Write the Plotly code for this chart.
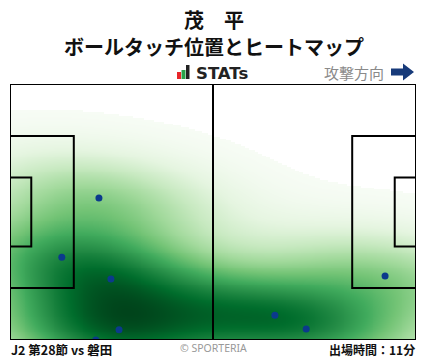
import numpy as np
import plotly.graph_objects as go

# Touch positions (pitch metres, x: 0-105 attacking to the right, y: 0-68)
touch_x = [23.0, 13.4, 26.1, 28.2, 22.2, 68.5, 76.6, 97.0]
touch_y = [37.7, 22.0, 16.2, 2.7, 0.0, 6.6, 2.9, 17.0]

title_name = "茂　平"
title_sub = "ボールタッチ位置とヒートマップ"
match_label = "J2 第28節 vs 磐田"
minutes_label = "出場時間：11分"

L, W = 105.0, 68.0

# Gaussian KDE (Scott's rule, full covariance) computed from touches
pts = np.vstack([touch_x, touch_y])
n = pts.shape[1]
factor = n ** (-1.0 / 6.0)
cov = np.cov(pts) * factor ** 2
inv = np.linalg.inv(cov)
gx = np.linspace(0, L, 211)
gy = np.linspace(0, W, 137)
GX, GY = np.meshgrid(gx, gy)
dens = np.zeros_like(GX)
for i in range(n):
    dx = GX - pts[0, i]
    dy = GY - pts[1, i]
    dens += np.exp(-0.5 * (inv[0, 0] * dx * dx + 2 * inv[0, 1] * dx * dy + inv[1, 1] * dy * dy))
dens /= dens.max()
thresh = 0.012
z = np.where(dens < thresh, np.nan, dens)

greens = [
    [0.0, "#f7fcf5"], [0.125, "#e5f5e0"], [0.25, "#c7e9c0"], [0.375, "#a1d99b"],
    [0.5, "#74c476"], [0.625, "#41ab5d"], [0.75, "#238b45"], [0.875, "#006d2c"],
    [1.0, "#00441b"],
]

fig = go.Figure()
fig.add_trace(go.Heatmap(x=gx, y=gy, z=z, colorscale=greens, zmin=thresh, zmax=1.0,
                         zsmooth="best", showscale=False, hoverinfo="skip"))
fig.add_trace(go.Scatter(x=touch_x, y=touch_y, mode="markers",
                         marker=dict(color="#0b3a8c", size=7), cliponaxis=True,
                         hoverinfo="skip"))

line = dict(color="black", width=2)
shapes = []
shapes.append(dict(type="rect", xref="x", yref="y", x0=0, x1=L, y0=0, y1=W, line=line))
shapes.append(dict(type="line", xref="x", yref="y", x0=L / 2, x1=L / 2, y0=0, y1=W, line=line))
pb_w, pb_d = 40.32, 16.5
ga_w, ga_d = 18.32, 5.5
for x0, x1 in [(0, pb_d), (L - pb_d, L)]:
    shapes.append(dict(type="rect", xref="x", yref="y", x0=x0, x1=x1,
                       y0=W / 2 - pb_w / 2, y1=W / 2 + pb_w / 2, line=line))
for x0, x1 in [(0, ga_d), (L - ga_d, L)]:
    shapes.append(dict(type="rect", xref="x", yref="y", x0=x0, x1=x1,
                       y0=W / 2 - ga_w / 2, y1=W / 2 + ga_w / 2, line=line))

def px(xp):
    return (xp - 10) / 406.0

def py(yp):
    return (340 - yp) / 256.0

for (a, b, top, col) in [(177, 181, 72, "#e8262a"), (181.5, 185.5, 70, "#2aa34a"), (186, 189.5, 65, "#222222")]:
    shapes.append(dict(type="rect", xref="paper", yref="paper", x0=px(a), x1=px(b),
                       y0=py(79), y1=py(top), line=dict(width=0), fillcolor=col))
ax0, ax1, ahead = 391, 414, 403
path = (f"M {px(ax0)},{py(68.5)} L {px(ahead)},{py(68.5)} L {px(ahead)},{py(63.5)} "
        f"L {px(ax1)},{py(72)} L {px(ahead)},{py(80.5)} L {px(ahead)},{py(75.5)} "
        f"L {px(ax0)},{py(75.5)} Z")
shapes.append(dict(type="path", xref="paper", yref="paper", path=path,
                   fillcolor="#173a7a", line=dict(width=0)))

font_b = "Noto Sans CJK JP"
ann = [
    dict(text=f"<b>{title_name}</b>", x=px(214), y=py(19.5), font=dict(size=20, color="#111")),
    dict(text=f"<b>{title_sub}</b>", x=px(214), y=py(46.5), font=dict(size=20, color="#111")),
    dict(text="<b>STATs</b>", x=px(195), y=py(73), xanchor="left",
         font=dict(size=16.5, color="#222", family="DejaVu Sans")),
    dict(text="攻撃方向", x=px(385), y=py(72), xanchor="right", font=dict(size=15, color="#8a8a8a")),
    dict(text=f"<b>{match_label}</b>", x=px(10), y=py(349), xanchor="left", font=dict(size=12.5, color="#111")),
    dict(text="© SPORTERIA", x=px(213), y=py(348), font=dict(size=10.5, color="#999", family="Noto Sans")),
    dict(text=f"<b>{minutes_label}</b>", x=px(416), y=py(349), xanchor="right", font=dict(size=12, color="#111")),
]
annotations = []
for a in ann:
    d = dict(xref="paper", yref="paper", showarrow=False, yanchor="middle", borderpad=0,
             xanchor=a.get("xanchor", "center"))
    d.update(a)
    d["font"] = dict(family=a["font"].get("family", font_b), size=a["font"]["size"], color=a["font"]["color"])
    annotations.append(d)

fig.update_layout(
    width=428, height=359,
    margin=dict(l=10, r=12, t=84, b=19),
    paper_bgcolor="white", plot_bgcolor="white",
    xaxis=dict(range=[0, L], visible=False, fixedrange=True),
    yaxis=dict(range=[0, W], visible=False, fixedrange=True),
    showlegend=False,
    shapes=shapes,
    annotations=annotations,
)
fig.write_html("out.html", config={"displayModeBar": False},
               post_script="document.body.style.margin='0';document.body.style.overflow='hidden';")
